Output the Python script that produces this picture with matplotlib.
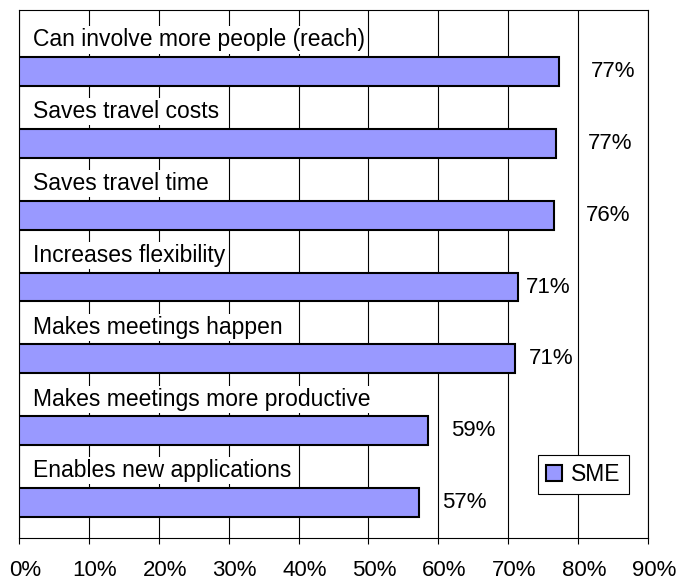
import matplotlib
matplotlib.use("Agg")
import matplotlib.pyplot as plt
import matplotlib.transforms as mtransforms
from matplotlib.ticker import MultipleLocator, PercentFormatter

plt.rcParams['font.family'] = ['Liberation Sans', 'DejaVu Sans']

# survey answers, top to bottom
categories = [
    "Can involve more people (reach)",
    "Saves travel costs",
    "Saves travel time",
    "Increases flexibility",
    "Makes meetings happen",
    "Makes meetings more productive",
    "Enables new applications",
]
sme = [77.2, 76.8, 76.6, 71.4, 70.9, 58.5, 57.3]
value_labels = ["77%", "77%", "76%", "71%", "71%", "59%", "57%"]

# label offsets from bar end (points), Excel put them a bit unevenly
label_pad = [23, 23, 23, 6, 10, 17, 16]

fig = plt.figure(figsize=(6.85, 5.81), dpi=100)
ax = fig.add_axes([0.0277, 0.074, 0.9183, 0.9088])

ypos = list(range(len(categories)))
ax.barh(ypos, sme, height=0.40, color='#9999FF', edgecolor='black',
        linewidth=1.5, label='SME', zorder=3)

for i, (cat, v, lab, pad) in enumerate(zip(categories, sme, value_labels, label_pad)):
    ax.text(2.0, i - 0.44, cat, fontsize=16.5, va='center', ha='left', zorder=4,
            bbox=dict(facecolor='white', edgecolor='none', pad=1.5))
    ax.annotate(lab, xy=(v, i), xytext=(pad, 0), textcoords='offset points',
                fontsize=16, va='center', ha='left', zorder=4)

ax.set_xlim(0, 90)
ax.set_ylim(6.494, -0.857)
ax.xaxis.set_major_locator(MultipleLocator(10))
ax.xaxis.set_major_formatter(PercentFormatter(decimals=0))
ax.tick_params(axis='x', labelsize=16, length=4, width=0.8, direction='out', pad=12)
# excel nudges the tick labels a little to the right
shift = mtransforms.ScaledTranslation(6 / 100, 0, fig.dpi_scale_trans)
for lbl in ax.get_xticklabels():
    lbl.set_transform(lbl.get_transform() + shift)
ax.set_yticks([])
ax.grid(axis='x', color='black', linewidth=0.8, zorder=1)
ax.set_axisbelow(True)
for s in ax.spines.values():
    s.set_linewidth(0.8)
    s.set_color('black')

leg = ax.legend(loc='lower left', bbox_to_anchor=(0.825, 0.083), fontsize=16.5,
                fancybox=False, framealpha=1, edgecolor='black',
                handlelength=0.7, handleheight=0.7, handletextpad=0.4,
                borderpad=0.35, borderaxespad=0)
leg.get_frame().set_linewidth(0.8)

fig.savefig("out.png", dpi=100)
